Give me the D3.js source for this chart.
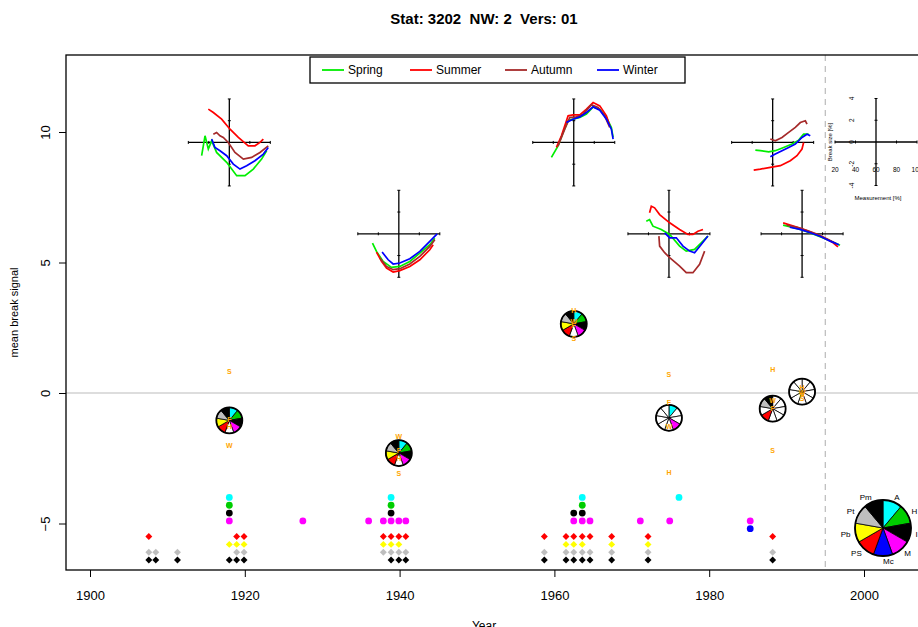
<!DOCTYPE html>
<html lang="en">
<head>
<meta charset="utf-8">
<title>Stat: 3202 NW: 2 Vers: 01</title>
<script src="https://cdn.jsdelivr.net/npm/d3@7"></script>
<style>
  body { margin: 0; background: #fff; }
  svg text { font-family: "Liberation Sans", Arial, sans-serif; }
</style>
</head>
<body>
<div id="chart"></div>
<script>
// ---- data ----
var seasons = ["Spring", "Summer", "Autumn", "Winter"];
var seasonColors = ["#00ee00", "#ff0000", "#a52a2a", "#0000ff"];
var xTicks = [1900, 1920, 1940, 1960, 1980, 2000];
var yTicks = [-5, 0, 5, 10];

// breaks: year, height of the inset plot, mean break signal (pie)
var breakYears = [1918.0, 1939.9, 1962.5, 1974.8, 1988.2, 1992.0];
var insetLevels = [9.6, 6.1, 9.6, 6.1, 9.6, 6.1];
var pieLevels = [-1.05, -2.3, 2.65, -0.95, -0.6, 0.05];
var lastYear = 1995;

// seasonal break signals (orange letters): F, S, H, W
var seasonLetters = ["F", "S", "H", "W"];
var seasonSignal = [
  [-1.0, 0.82, -1.3, -2.03],
  [-2.2, -3.08, -2.5, -1.65],
  [2.6, 2.1, 3.14, 2.75],
  [-0.37, 0.69, -3.05, -1.29],
  [-0.59, -2.21, 0.88, -0.30],
  [-0.1, -0.2, 0.2, 0.0]
];

// break size [%] against measurement percentile, one list per break
var spring = [
  [[33,-1.22],[36.3,0.61],[39.5,-0.61],[42.8,0.15],[47.6,-0.92],[57.4,-1.83],[67.2,-3.06],[75.3,-3.06],[83.4,-2.45],[91.5,-1.53],[96.4,-0.76]],
  [[34.3,-0.86],[38.2,-1.62],[44.7,-2.54],[52.8,-3.09],[61,-3.0],[70.7,-2.54],[80.5,-1.77],[90.2,-1.01],[95.1,-0.4]],
  [[38.2,-1.38],[44.7,-0.31],[49.6,0.92],[54.5,1.99],[59.3,2.14],[65.9,2.29],[72.4,2.6],[78.9,3.27],[85.4,3.06],[91.9,2.29],[96.7,1.38],[98.4,0.46]],
  [[37.9,1.16],[41.1,1.31],[44.4,0.7],[52.5,0.4],[60.7,-0.06],[70.4,-1.13],[76.9,-1.59],[85,-1.44],[91.5,-0.83],[98,-0.21]],
  [[43.1,-0.7],[48,-0.76],[56.1,-0.86],[62.6,-0.76],[70.7,-0.46],[78.9,-0.15],[85.4,0.21],[90.2,0.76],[95.1,0.76]],
  [[41.5,0.8],[50,0.6],[60,0.35],[70,0.0],[80,-0.35],[90,-0.75],[97,-1.05]]
];
var summer = [
  [[39.5,3.06],[44.4,2.75],[52.5,2.14],[60.7,1.22],[68.8,0.46],[78.5,-0.31],[85,-0.31],[89.9,0],[93.2,0.31]],
  [[38.2,-1.68],[43.1,-2.54],[48,-3.15],[54.5,-3.52],[61,-3.39],[70.7,-3.0],[80.5,-2.39],[90.2,-1.47],[93.5,-1.01]],
  [[43.1,-0.46],[48,0.61],[54.5,2.45],[59.3,2.54],[65.9,2.54],[72.4,3.06],[78.9,3.67],[85.4,3.36],[91.9,2.45],[95.1,1.53]],
  [[41.1,1.93],[42.8,2.54],[46,2.39],[50.9,1.77],[60.7,1.01],[70.4,0.4],[78.5,-0.06],[83.4,-0.06],[88.3,0.24],[93.2,0.4]],
  [[41.5,-2.54],[48,-2.45],[57.7,-2.29],[67.5,-2.14],[77.2,-1.68],[83.7,-1.22],[88.6,-0.61],[90.2,0]],
  [[41.5,1.0],[50,0.75],[60,0.45],[70,0.1],[80,-0.3],[90,-0.8],[95,-1.2]]
];
var autumn = [
  [[44.4,0.76],[47.6,0.92],[50.9,0.61],[54.1,0.46],[59,0],[65.5,-0.92],[73.7,-1.53],[81.8,-1.38],[89.9,-0.92],[98,-0.31]],
  [[41.5,-2.23],[48,-3.0],[54.5,-3.3],[61,-3.21],[70.7,-2.78],[80.5,-2.08],[90.2,-1.16],[95.1,-0.55]],
  [[44.7,-0.31],[51.2,1.22],[56.1,2.29],[62.6,2.35],[69.1,2.6],[77.2,3.46],[83.7,3.21],[90.2,2.45],[95.1,1.38]],
  [[50.2,-0.21],[50.9,-1.13],[55.8,-1.74],[60.7,-2.2],[70.4,-2.97],[76.9,-3.58],[83.4,-3.58],[89.9,-2.81],[94.8,-1.59]],
  [[57.7,0.31],[62.6,0.15],[69.1,0.46],[75.6,0.92],[82.1,1.38],[87,1.83],[91.9,1.99],[93.5,1.68]],
  [[45,0.8],[55,0.6],[65,0.3],[75,-0.05],[85,-0.5],[93,-0.9]]
];
var winter = [
  [[42.8,0.31],[46,-0.46],[50.9,-0.76],[57.4,-1.22],[63.9,-1.99],[70.4,-2.45],[76.9,-2.14],[85,-1.68],[93.2,-1.07],[98,-0.46]],
  [[43.7,-1.68],[49.6,-2.39],[54.5,-2.78],[61,-2.69],[70.7,-2.29],[80.5,-1.62],[90.2,-0.7],[97.4,0]],
  [[52.8,1.83],[59.3,2.14],[65.9,2.35],[72.4,2.75],[78.9,3.27],[85.4,2.97],[91.9,2.14],[96.7,1.22],[98.4,0.31]],
  [[55.8,0.09],[60.7,-0.37],[67.2,-0.37],[73.7,-1.13],[80.2,-1.59],[85,-1.74],[91.5,-0.98],[98,-0.21]],
  [[57.7,-1.31],[62.6,-1.07],[69.1,-0.76],[75.6,-0.46],[82.1,-0.15],[88.6,0.46],[93.5,0.76],[96.7,0.61]],
  [[48,0.6],[58,0.4],[68,0.1],[78,-0.25],[88,-0.7],[96,-1.0]]
];

// metadata types: row in plot, colour, and years with an entry
var metaTypes = ["A", "H", "I", "M", "Mc", "PS", "Pb", "Pt", "Pm"];
var metaColors = ["#00ffff", "#00cd00", "#000000", "#ff00ff", "#0000ff", "#ff0000", "#ffff00", "#bebebe", "#000000"];
var metaRows = [-4.0, -4.3, -4.6, -4.9, -5.2, -5.5, -5.8, -6.1, -6.4];
var metaYears = [
  [1918.0, 1938.9, 1963.6, 1976.1],
  [1918.0, 1938.9, 1963.6],
  [1918.0, 1938.9, 1962.5, 1963.6],
  [1918.0, 1927.5, 1936.0, 1937.9, 1938.9, 1939.9, 1940.8, 1962.5, 1963.6, 1964.6, 1971.1, 1974.9, 1985.3],
  [1985.3],
  [1907.6, 1918.95, 1919.9, 1937.9, 1938.9, 1939.9, 1940.8, 1958.7, 1961.5, 1962.5, 1963.6, 1964.6, 1967.4, 1972.1, 1988.2],
  [1918.0, 1918.95, 1919.9, 1937.9, 1938.9, 1939.9, 1961.5, 1962.5, 1963.6, 1967.4, 1972.1],
  [1907.6, 1908.5, 1911.3, 1918.95, 1919.9, 1937.9, 1938.9, 1939.9, 1940.8, 1958.7, 1961.5, 1962.5, 1963.6, 1964.6, 1967.4, 1972.1, 1988.2],
  [1907.6, 1908.5, 1911.3, 1918.0, 1918.95, 1919.9, 1938.9, 1939.9, 1940.8, 1958.7, 1961.5, 1962.5, 1963.6, 1964.6, 1967.4, 1972.1, 1988.2]
];
// which metadata types fill the pie of each break
var pieFilled = [
  ["A", "H", "I", "M", "PS", "Pb", "Pt", "Pm"],
  ["A", "H", "I", "M", "PS", "Pb", "Pt", "Pm"],
  ["A", "H", "I", "M", "PS", "Pb", "Pt", "Pm"],
  ["A", "M"],
  ["PS", "Pt", "Pm"],
  []
];

// ---- layout ----
var w = 918, h = 627;
var plotLeft = 66, plotTop = 55, plotBottom = 570, plotRight = 940;

var svg = d3.select("#chart").append("svg")
  .attr("width", w).attr("height", h);

var xScale = d3.scaleLinear().domain([1900, 2000]).range([90, 864]);
var yScale = d3.scaleLinear().domain([0, 10]).range([393, 132]);

// title
svg.append("text")
  .attr("x", 484).attr("y", 24)
  .attr("text-anchor", "middle")
  .style("font-size", "15px").style("font-weight", "bold")
  .style("white-space", "pre")
  .text("Stat: 3202  NW: 2  Vers: 01");

// zero line and end of series
svg.append("line")
  .attr("x1", plotLeft).attr("x2", plotRight)
  .attr("y1", yScale(0)).attr("y2", yScale(0))
  .attr("stroke", "#bbbbbb").attr("stroke-width", 1.2);
svg.append("line")
  .attr("x1", xScale(lastYear)).attr("x2", xScale(lastYear))
  .attr("y1", plotTop).attr("y2", plotBottom)
  .attr("stroke", "#bbbbbb").attr("stroke-width", 1.2)
  .attr("stroke-dasharray", "6,5");

// axes
var xAxis = d3.axisBottom(xScale).tickValues(xTicks).tickFormat(d3.format("d")).tickSize(7).tickPadding(14);
var yAxis = d3.axisLeft(yScale).tickValues(yTicks).tickSize(7);

var gx = svg.append("g").attr("transform", "translate(0," + plotBottom + ")").call(xAxis);
gx.select(".domain").remove();
gx.selectAll("text").style("font-size", "13px").attr("fill", "#000");

var gy = svg.append("g").attr("transform", "translate(" + plotLeft + ",0)").call(yAxis);
gy.select(".domain").remove();
gy.selectAll("text")
  .style("font-size", "13px").attr("fill", "#000")
  .attr("text-anchor", "middle")
  .attr("x", 0).attr("y", 0).attr("dy", "0.35em")
  .attr("transform", "translate(-21,0) rotate(-90)");

svg.append("text")
  .attr("transform", "translate(18," + ((plotTop + plotBottom) / 2) + ") rotate(-90)")
  .attr("text-anchor", "middle")
  .style("font-size", "11px")
  .text("mean break signal");
svg.append("text")
  .attr("x", 484).attr("y", 630)
  .attr("text-anchor", "middle")
  .style("font-size", "12px")
  .text("Year");

// plot frame
svg.append("rect")
  .attr("x", plotLeft).attr("y", plotTop)
  .attr("width", plotRight - plotLeft).attr("height", plotBottom - plotTop)
  .attr("fill", "none").attr("stroke", "#000").attr("stroke-width", 1.3);

// ---- inset plots (break size vs measurement) ----
function insetScales(cx, cy) {
  return {
    x: d3.scaleLinear().domain([20, 100]).range([cx - 41, cx + 41]),
    y: d3.scaleLinear().domain([-4, 4]).range([cy + 43.5, cy - 43.5])
  };
}
function drawInsetAxes(g, s) {
  g.append("line").attr("x1", s.x(20)).attr("x2", s.x(100))
    .attr("y1", s.y(0)).attr("y2", s.y(0))
    .attr("stroke", "#000").attr("stroke-width", 1.3);
  g.append("line").attr("x1", s.x(60)).attr("x2", s.x(60))
    .attr("y1", s.y(-4)).attr("y2", s.y(4))
    .attr("stroke", "#000").attr("stroke-width", 1.3);
  [20, 40, 80, 100].forEach(function (v) {
    g.append("line").attr("x1", s.x(v)).attr("x2", s.x(v))
      .attr("y1", s.y(0) - 1.5).attr("y2", s.y(0) + 1.5)
      .attr("stroke", "#000").attr("stroke-width", 1);
  });
  [-4, -2, 2, 4].forEach(function (v) {
    g.append("line").attr("x1", s.x(60) - 1.5).attr("x2", s.x(60) + 1.5)
      .attr("y1", s.y(v)).attr("y2", s.y(v))
      .attr("stroke", "#000").attr("stroke-width", 1);
  });
}

var seasonData = [spring, summer, autumn, winter];
breakYears.forEach(function (yr, i) {
  var s = insetScales(xScale(yr), yScale(insetLevels[i]));
  var g = svg.append("g").attr("class", "inset");
  drawInsetAxes(g, s);
  var line = d3.line().x(function (d) { return s.x(d[0]); }).y(function (d) { return s.y(d[1]); });
  seasonData.forEach(function (sd, k) {
    g.append("path").datum(sd[i])
      .attr("d", line)
      .attr("fill", "none")
      .attr("stroke", seasonColors[k])
      .attr("stroke-width", 1.7);
  });
});

// key inset with its labels
(function () {
  var s = insetScales(876, 142);
  var g = svg.append("g");
  drawInsetAxes(g, s);
  [20, 40, 60, 80, 100].forEach(function (v) {
    g.append("text").attr("x", s.x(v)).attr("y", 172)
      .attr("text-anchor", "middle").style("font-size", "6.5px").text(v);
  });
  [-4, -2, 0, 2, 4].forEach(function (v) {
    g.append("text")
      .attr("transform", "translate(" + (s.x(60) - 22) + "," + s.y(v) + ") rotate(-90)")
      .attr("text-anchor", "middle").style("font-size", "6.5px").text(v);
  });
  g.append("text")
    .attr("transform", "translate(832,142) rotate(-90)")
    .attr("text-anchor", "middle").style("font-size", "6px").text("Break size [%]");
  g.append("text").attr("x", 878).attr("y", 200)
    .attr("text-anchor", "middle").style("font-size", "6px").text("Measurement [%]");
})();

// ---- metadata markers ----
var diamond = d3.symbol().type(d3.symbolSquare).size(24);
metaTypes.forEach(function (t, k) {
  var g = svg.append("g");
  metaYears[k].forEach(function (yr) {
    if (k < 5) {
      g.append("circle")
        .attr("cx", xScale(yr)).attr("cy", yScale(metaRows[k]))
        .attr("r", 3.4).attr("fill", metaColors[k]);
    } else {
      g.append("path").attr("d", diamond)
        .attr("transform", "translate(" + xScale(yr) + "," + yScale(metaRows[k]) + ") rotate(45)")
        .attr("fill", metaColors[k]);
    }
  });
});

// ---- pies ----
var pie = d3.pie().sort(null).value(function () { return 1; });
var slices = pie(metaTypes);
function drawPie(cx, cy, r, filled, g) {
  var arc = d3.arc().innerRadius(0).outerRadius(r);
  g.selectAll("path.slice").data(slices).enter().append("path")
    .attr("class", "slice")
    .attr("transform", "translate(" + cx + "," + cy + ")")
    .attr("d", arc)
    .attr("fill", function (d, i) { return filled.indexOf(d.data) >= 0 ? metaColors[i] : "#ffffff"; })
    .attr("stroke", "#000").attr("stroke-width", 0.8);
  g.append("circle").attr("cx", cx).attr("cy", cy).attr("r", r)
    .attr("fill", "none").attr("stroke", "#000").attr("stroke-width", 1.8);
}

breakYears.forEach(function (yr, i) {
  var g = svg.append("g");
  drawPie(xScale(yr), yScale(pieLevels[i]), 13, pieFilled[i], g);
  seasonLetters.forEach(function (l, k) {
    g.append("text")
      .attr("x", xScale(yr)).attr("y", yScale(seasonSignal[i][k]))
      .attr("dy", "0.35em")
      .attr("text-anchor", "middle")
      .attr("fill", "#ffa500")
      .style("font-size", "7px").style("font-weight", "bold")
      .text(l);
  });
});

// pie key
(function () {
  var g = svg.append("g");
  var cx = 883, cy = 528, r = 28;
  drawPie(cx, cy, r, metaTypes, g);
  slices.forEach(function (d) {
    var a = (d.startAngle + d.endAngle) / 2;
    var px = Math.sin(a) * r * 1.18, py = -Math.cos(a) * r * 1.18;
    g.append("text")
      .attr("x", cx + px).attr("y", cy + py)
      .attr("dy", "0.35em")
      .attr("text-anchor", px < 0 ? "end" : "start")
      .style("font-size", "8px")
      .text(d.data);
  });
})();

// ---- legend ----
var legend = svg.append("g");
legend.append("rect")
  .attr("x", 310).attr("y", 57).attr("width", 375).attr("height", 26)
  .attr("fill", "#fff").attr("stroke", "#000").attr("stroke-width", 1.3);
var legendX = [322, 410, 505, 597];
seasons.forEach(function (s, k) {
  legend.append("line")
    .attr("x1", legendX[k]).attr("x2", legendX[k] + 22)
    .attr("y1", 70).attr("y2", 70)
    .attr("stroke", seasonColors[k]).attr("stroke-width", 1.8);
  legend.append("text")
    .attr("x", legendX[k] + 26).attr("y", 70).attr("dy", "0.35em")
    .style("font-size", "12px")
    .text(s);
});
</script>
</body>
</html>
